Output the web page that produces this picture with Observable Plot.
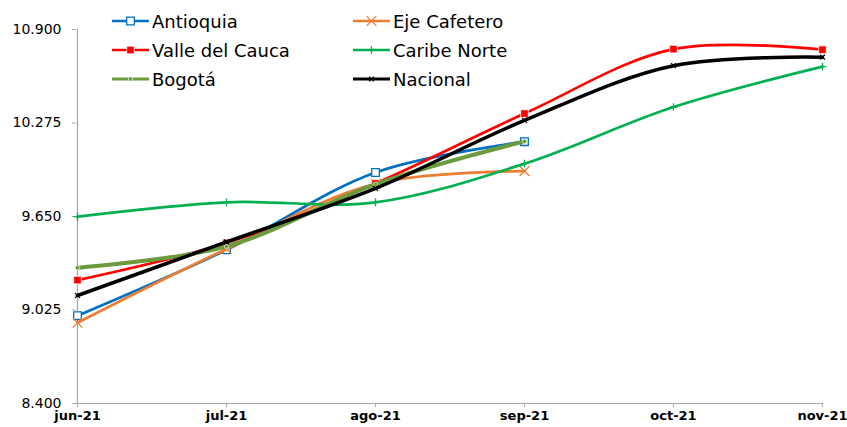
<!DOCTYPE html>
<html>
<head>
<meta charset="utf-8">
<script src="https://cdn.jsdelivr.net/npm/d3@7"></script>
<script src="https://cdn.jsdelivr.net/npm/@observablehq/plot@0.6"></script>
<style>
  body { margin: 0; background: #fff; }
  #wrap { position: relative; width: 847px; height: 427px; font-family: "DejaVu Sans", sans-serif; }
  .leg { position: absolute; display: flex; align-items: center; height: 22px; font-size: 18px; color: #000; white-space: nowrap; }
  .leg svg { margin-right: 3px; }
</style>
</head>
<body>
<div id="wrap"></div>
<script>
const months = ["jun-21", "jul-21", "ago-21", "sep-21", "oct-21", "nov-21"];
const yTicks = [8.4, 9.025, 9.65, 10.275, 10.9];

const antioquia   = [8.987, 9.427, 9.944, 10.150];
const ejeCafetero = [8.940, 9.433, 9.868, 9.953];
const valle       = [9.225, 9.473, 9.871, 10.338, 10.769, 10.765];
const caribe      = [9.649, 9.745, 9.745, 10.003, 10.382, 10.652];
const bogota      = [9.308, 9.450, 9.866, 10.152];
const nacional    = [9.122, 9.480, 9.838, 10.292, 10.658, 10.715];

const seriesNames = ["Antioquia", "Eje Cafetero", "Valle del Cauca", "Caribe Norte", "Bogotá", "Nacional"];
const seriesValues = [antioquia, ejeCafetero, valle, caribe, bogota, nacional];
const seriesColors = ["#0070C0", "#ED7D31", "#FF0000", "#00B050", "#6A9B3C", "#000000"];
const seriesWidths = [2.7, 2.7, 2.7, 2.7, 4, 3.5];
const seriesMarkers = [
  {symbol: "square", r: 4.3, fill: "#fff", stroke: "#0070C0", strokeWidth: 1.3},
  {symbol: "times", r: 4.5, fill: "none", stroke: "#ED7D31", strokeWidth: 1.3},
  {symbol: "square", r: 4.3, fill: "#FF0000", stroke: "#fff", strokeWidth: 0.8},
  {symbol: "plus", r: 2.6, fill: "none", stroke: "#00B050", strokeWidth: 1.3},
  {symbol: "circle", r: 2.2, fill: "#6A9B3C", stroke: "#fff", strokeWidth: 0.6},
  {symbol: "times", r: 2.3, fill: "none", stroke: "#000", strokeWidth: 1.3}
];

const tables = seriesValues.map((vals, i) =>
  vals.map((v, j) => ({series: seriesNames[i], month: months[j], value: v})));

const marks = [
  Plot.ruleY([8.4], {stroke: "#A6A6A6", strokeWidth: 1.2}),
  Plot.ruleX([months[0]], {y1: 8.4, y2: 10.9, stroke: "#A6A6A6", strokeWidth: 1.2}),
  Plot.axisY({ticks: yTicks, tickFormat: d3.format(".3f"), tickSize: 4, tickPadding: 11, stroke: "#A6A6A6", fill: "#000", fontSize: 14, label: null}),
  Plot.axisX({tickSize: 4, tickPadding: 3, stroke: "#A6A6A6", fill: "#000", fontSize: 13, fontWeight: "bold", label: null})
];
tables.forEach((t, i) => {
  marks.push(Plot.line(t, {x: "month", y: "value", stroke: seriesColors[i], strokeWidth: seriesWidths[i], curve: "catmull-rom"}));
  marks.push(Plot.dot(t, {x: "month", y: "value", ...seriesMarkers[i]}));
});

const chart = Plot.plot({
  width: 847,
  height: 427,
  marginLeft: 76,
  marginRight: 25,
  marginTop: 29,
  marginBottom: 24,
  style: {fontFamily: "DejaVu Sans, sans-serif", background: "#fff", color: "#000"},
  x: {type: "point", domain: months, padding: 0},
  y: {domain: [8.4, 10.9]},
  marks
});
const wrap = document.getElementById("wrap");
wrap.appendChild(chart);

// Legend (HTML overlay)
const legPos = [
  {left: 112, top: 21}, {left: 353, top: 21},
  {left: 112, top: 50}, {left: 353, top: 50},
  {left: 112, top: 79}, {left: 353, top: 79}
];
seriesNames.forEach((name, i) => {
  const m = seriesMarkers[i];
  const div = document.createElement("div");
  div.className = "leg";
  div.style.left = legPos[i].left + "px";
  div.style.top = (legPos[i].top - 11) + "px";
  const sym = d3.symbol().type({
    square: d3.symbolSquare, times: d3.symbolTimes, plus: d3.symbolPlus, circle: d3.symbolCircle
  }[m.symbol]).size(m.r * m.r * Math.PI)();
  div.innerHTML = `<svg width="37" height="12" viewBox="0 0 37 12">
    <line x1="0" x2="37" y1="6" y2="6" stroke="${seriesColors[i]}" stroke-width="${Math.min(seriesWidths[i], 3.2)}"/>
    <path d="${sym}" transform="translate(18.5,6)" fill="${m.fill}" stroke="${m.stroke}" stroke-width="${m.strokeWidth}"/>
  </svg><span>${name}</span>`;
  wrap.appendChild(div);
});
</script>
</body>
</html>
